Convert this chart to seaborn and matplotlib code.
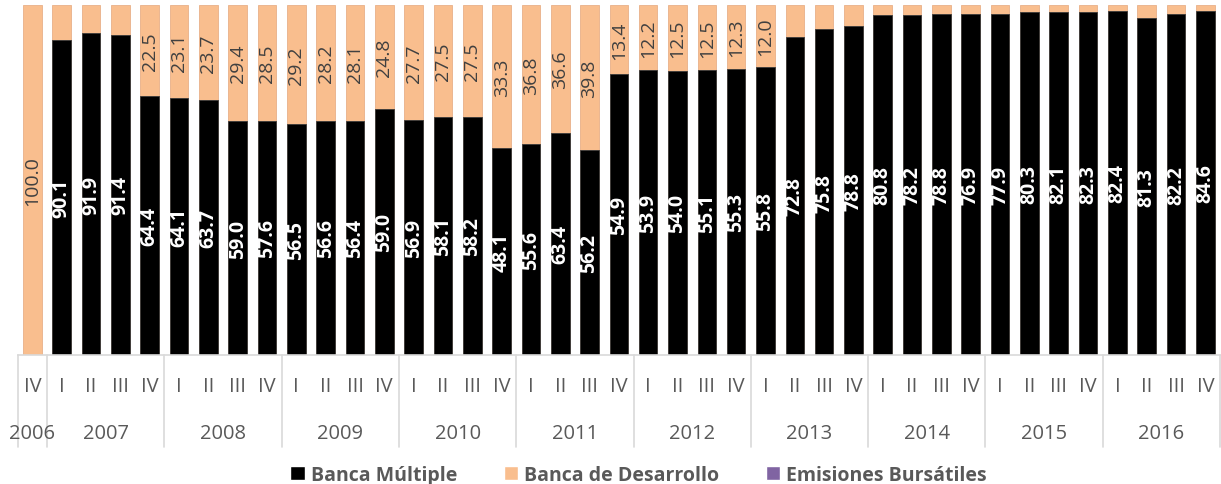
"""
Financiamiento por fuente: participación trimestral (barras apiladas al 100%).
"""

import matplotlib
matplotlib.use("Agg")
import matplotlib.pyplot as plt
import matplotlib.transforms as mtransforms
from matplotlib.patches import Patch
import pandas as pd
import seaborn as sns

# --- data ---------------------------------------------------------------
years = ["2006", "2007", "2008", "2009", "2010", "2011",
         "2012", "2013", "2014", "2015", "2016"]
year_sizes = [1, 4, 4, 4, 4, 4, 4, 4, 4, 4, 4]
quarters = ["IV"] + ["I", "II", "III", "IV"] * 10

banca_multiple = [
    0.0,
    90.1, 91.9, 91.4, 64.4,
    64.1, 63.7, 59.0, 57.6,
    56.5, 56.6, 56.4, 59.0,
    56.9, 58.1, 58.2, 48.1,
    55.6, 63.4, 56.2, 54.9,
    53.9, 54.0, 55.1, 55.3,
    55.8, 72.8, 75.8, 78.8,
    80.8, 78.2, 78.8, 76.9,
    77.9, 80.3, 82.1, 82.3,
    82.4, 81.3, 82.2, 84.6,
]
# values without a label in the source are estimated from bar heights
banca_desarrollo = [
    100.0,
    9.9, 8.1, 8.6, 22.5,
    23.1, 23.7, 29.4, 28.5,
    29.2, 28.2, 28.1, 24.8,
    27.7, 27.5, 27.5, 33.3,
    36.8, 36.6, 39.8, 13.4,
    12.2, 12.5, 12.5, 12.3,
    12.0, 7.4, 5.7, 5.0,
    2.4, 2.2, 2.1, 2.1,
    2.1, 1.7, 1.6, 1.6,
    1.5, 3.2, 2.2, 1.4,
]
emisiones_bursatiles = [0.0] * 41

# --- style --------------------------------------------------------------
sns.set_style("white")
plt.rcParams["font.family"] = ["Open Sans", "DejaVu Sans"]

c_multiple = "#000000"
c_desarrollo = "#F9BE8E"
c_emisiones = "#8064A2"
c_text = "#595959"
c_line = "#D9D9D9"

periods = [f"{q}-{k}" for k, q in enumerate(quarters)]
total = [m + d + e for m, d, e in zip(banca_multiple, banca_desarrollo,
                                      emisiones_bursatiles)]
df = pd.DataFrame({
    "periodo": periods,
    "multiple": [100 * m / t for m, t in zip(banca_multiple, total)],
    "desarrollo": [100 * d / t for d, t in zip(banca_desarrollo, total)],
})
df["acumulado"] = df["multiple"] + df["desarrollo"]

fig = plt.figure(figsize=(12.21, 4.85), dpi=100)
ax = fig.add_axes([0.0145, 0.2666, 0.9847, 0.721])

bar_w = 0.634
sns.barplot(data=df, x="periodo", y="acumulado", color=c_desarrollo,
            saturation=1, width=bar_w, errorbar=None, ax=ax,
            edgecolor="#E8B088", linewidth=0.6)
sns.barplot(data=df, x="periodo", y="multiple", color=c_multiple,
            saturation=1, width=bar_w, errorbar=None, ax=ax,
            edgecolor="#3A3A3A", linewidth=0.6)

ax.set_xlim(-0.5, len(periods) - 0.5)
ax.set_ylim(0, 100)
ax.set_xlabel("")
ax.set_ylabel("")
ax.set_xticks([])
ax.set_yticks([])
for side in ["left", "right", "top"]:
    ax.spines[side].set_visible(False)
ax.spines["bottom"].set_color(c_line)
ax.spines["bottom"].set_linewidth(1.2)

# value labels
for i, row in df.iterrows():
    m = banca_multiple[i]
    d = banca_desarrollo[i]
    if m > 0:
        ax.text(i, row["multiple"] / 2, f"{m:.1f}", rotation=90,
                ha="center", va="center", color="white",
                fontweight="bold", fontsize=14)
    if d >= 10:
        ax.text(i, row["multiple"] + row["desarrollo"] / 2, f"{d:.1f}",
                rotation=90, ha="center", va="center", color="#404040",
                fontsize=14)

# two-level category axis
trans = mtransforms.blended_transform_factory(ax.transData, ax.transAxes)
for i, q in enumerate(quarters):
    ax.text(i, -0.089, q, transform=trans, ha="center", va="center",
            color=c_text, fontsize=14.5, clip_on=False)

start = 0
bounds = [-0.5]
for y, n in zip(years, year_sizes):
    ax.text(start + (n - 1) / 2, -0.224, y, transform=trans, ha="center",
            va="center", color=c_text, fontsize=14.5, clip_on=False)
    start += n
    bounds.append(start - 0.5)
for b in bounds:
    ax.plot([b, b], [0, -0.264], transform=trans, color=c_line,
            linewidth=1.2, clip_on=False)

handles = [
    Patch(facecolor=c_multiple, label="Banca Múltiple"),
    Patch(facecolor=c_desarrollo, label="Banca de Desarrollo"),
    Patch(facecolor=c_emisiones, label="Emisiones Bursátiles"),
]
leg = fig.legend(handles=handles, loc="center", ncol=3,
                 bbox_to_anchor=(0.523, 0.019), frameon=False,
                 prop={"weight": "bold", "size": 14},
                 handlelength=0.75, handleheight=0.75,
                 handletextpad=0.3, columnspacing=2.4)
for t in leg.get_texts():
    t.set_color(c_text)

fig.savefig("out.png", dpi=100)
